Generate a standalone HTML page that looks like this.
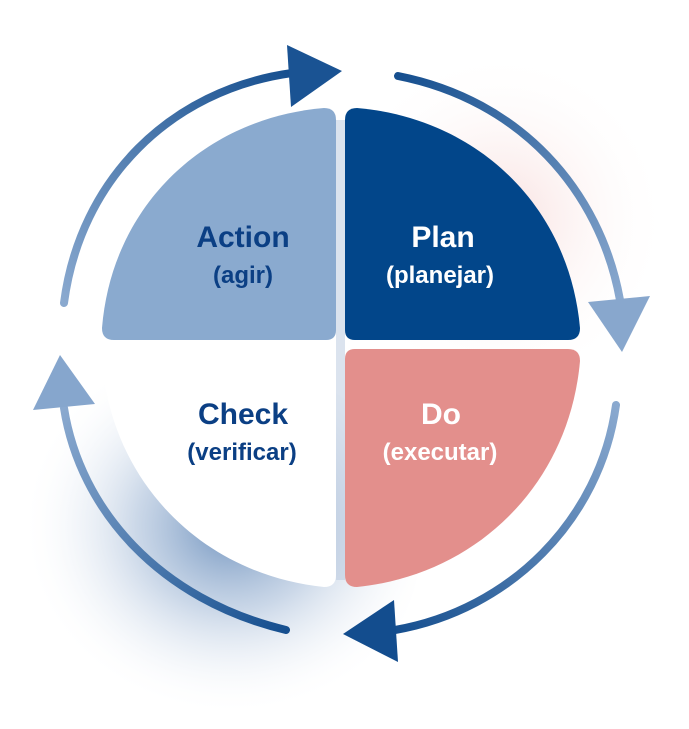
<!DOCTYPE html>
<html><head><meta charset="utf-8"><style>
html,body{margin:0;padding:0;background:#fff;}
svg{display:block;}
text{font-family:"Liberation Sans",sans-serif;font-weight:bold;text-anchor:middle;}
</style></head><body>
<svg width="689" height="729" viewBox="0 0 689 729" xmlns="http://www.w3.org/2000/svg">
<defs>
<radialGradient id="sb" cx="0.55" cy="0.45" r="0.5">
<stop offset="0" stop-color="#3f6ea8" stop-opacity="0.75"/>
<stop offset="0.45" stop-color="#7d9dc6" stop-opacity="0.4"/>
<stop offset="1" stop-color="#ffffff" stop-opacity="0"/>
</radialGradient>
<radialGradient id="sp" cx="0.5" cy="0.5" r="0.5">
<stop offset="0" stop-color="#f2c4c2" stop-opacity="0.55"/>
<stop offset="1" stop-color="#ffffff" stop-opacity="0"/>
</radialGradient>
<linearGradient id="gTop" x1="0" y1="1" x2="1" y2="0">
<stop offset="0" stop-color="#8aa9cf"/><stop offset="1" stop-color="#164f8f"/>
</linearGradient>
<linearGradient id="gRight" x1="0" y1="0" x2="1" y2="1">
<stop offset="0" stop-color="#164f8f"/><stop offset="1" stop-color="#8aa9cf"/>
</linearGradient>
<linearGradient id="gBot" x1="1" y1="0" x2="0" y2="1">
<stop offset="0" stop-color="#8aa9cf"/><stop offset="1" stop-color="#164f8f"/>
</linearGradient>
<linearGradient id="gLeft" x1="1" y1="1" x2="0" y2="0">
<stop offset="0" stop-color="#164f8f"/><stop offset="1" stop-color="#8aa9cf"/>
</linearGradient>
</defs>
<ellipse cx="210" cy="545" rx="210" ry="190" fill="url(#sb)"/>
<ellipse cx="500" cy="220" rx="170" ry="170" fill="url(#sp)"/>
<rect x="336" y="120" width="9" height="460" fill="#b7c7dd" opacity="0.5"/>
<!-- quadrants -->
<path d="M336,120 Q336,108 324,108 C205,118 112,205 102,328 Q102,340 114,340 L326,340 Q336,340 336,330 Z" fill="#8aaacf"/>
<path d="M345,120 Q345,108 357,108 C476,118 569,205 580,328 Q580,340 568,340 L355,340 Q345,340 345,330 Z" fill="#02468a"/>
<path d="M336,359 Q336,349 326,349 L114,349 Q102,349 102,361 C112,485 205,575 324,587 Q336,587 336,575 Z" fill="#ffffff"/>
<path d="M345,359 Q345,349 355,349 L568,349 Q580,349 580,361 C569,485 476,575 357,587 Q345,587 345,575 Z" fill="#e38f8c"/>
<!-- arcs -->
<path d="M64,303 C80,180 170,90 292,73" fill="none" stroke="url(#gTop)" stroke-width="8" stroke-linecap="round"/>
<path d="M398,76 C520,100 600,190 620,300" fill="none" stroke="url(#gRight)" stroke-width="8" stroke-linecap="round"/>
<path d="M616,405 C600,520 510,610 395,630" fill="none" stroke="url(#gBot)" stroke-width="8" stroke-linecap="round"/>
<path d="M286,630 C160,600 80,510 64,408" fill="none" stroke="url(#gLeft)" stroke-width="8" stroke-linecap="round"/>
<polygon points="287,45 342,71 291,107" fill="#1a5393"/>
<polygon points="650,296 622,352 588,302" fill="#88a7cd"/>
<polygon points="394,600 343,634 398,662" fill="#134d8e"/>
<polygon points="33,410 60,355 95,404" fill="#86a6cd"/>
<!-- labels -->
<text x="243" y="247" font-size="30" fill="#0b3f84">Action</text>
<text x="243" y="283" font-size="24" fill="#0b3f84">(agir)</text>
<text x="443" y="247" font-size="30" fill="#ffffff">Plan</text>
<text x="440" y="283" font-size="24" fill="#ffffff">(planejar)</text>
<text x="243" y="424" font-size="30" fill="#0b3f84">Check</text>
<text x="242" y="460" font-size="24" fill="#0b3f84">(verificar)</text>
<text x="441" y="424" font-size="30" fill="#ffffff">Do</text>
<text x="440" y="460" font-size="24" fill="#ffffff">(executar)</text>
</svg>
</body></html>
